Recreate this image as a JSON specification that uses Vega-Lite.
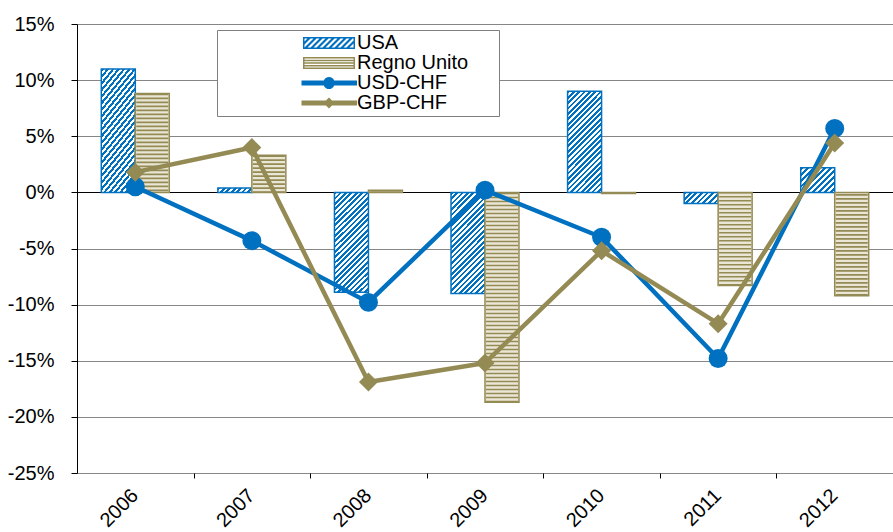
{
  "$schema": "https://vega.github.io/schema/vega-lite/v6.json",
  "width": 816,
  "height": 449,
  "autosize": "none",
  "padding": {"left": 77, "top": 24, "right": 0, "bottom": 59},
  "background": "#FFFFFF",
  "datasets": {
    "bars": [
      {"year": "2006", "series": "USA", "value": 11.0},
      {"year": "2006", "series": "Regno Unito", "value": 8.8},
      {"year": "2007", "series": "USA", "value": 0.4},
      {"year": "2007", "series": "Regno Unito", "value": 3.3},
      {"year": "2008", "series": "USA", "value": -8.9},
      {"year": "2008", "series": "Regno Unito", "value": 0.2},
      {"year": "2009", "series": "USA", "value": -9.0},
      {"year": "2009", "series": "Regno Unito", "value": -18.7},
      {"year": "2010", "series": "USA", "value": 9.0},
      {"year": "2010", "series": "Regno Unito", "value": -0.1},
      {"year": "2011", "series": "USA", "value": -1.0},
      {"year": "2011", "series": "Regno Unito", "value": -8.3},
      {"year": "2012", "series": "USA", "value": 2.2},
      {"year": "2012", "series": "Regno Unito", "value": -9.2}
    ],
    "fx": [
      {"year": "2006", "pair": "USD-CHF", "value": 0.5},
      {"year": "2007", "pair": "USD-CHF", "value": -4.3},
      {"year": "2008", "pair": "USD-CHF", "value": -9.8},
      {"year": "2009", "pair": "USD-CHF", "value": 0.2},
      {"year": "2010", "pair": "USD-CHF", "value": -4.0},
      {"year": "2011", "pair": "USD-CHF", "value": -14.8},
      {"year": "2012", "pair": "USD-CHF", "value": 5.7},
      {"year": "2006", "pair": "GBP-CHF", "value": 1.8},
      {"year": "2007", "pair": "GBP-CHF", "value": 4.0},
      {"year": "2008", "pair": "GBP-CHF", "value": -16.9},
      {"year": "2009", "pair": "GBP-CHF", "value": -15.2},
      {"year": "2010", "pair": "GBP-CHF", "value": -5.2},
      {"year": "2011", "pair": "GBP-CHF", "value": -11.7},
      {"year": "2012", "pair": "GBP-CHF", "value": 4.4}
    ]
  },
  "encoding": {
    "x": {"field": "year", "type": "nominal", "scale": {"paddingInner": 0.417, "paddingOuter": 0.2085},
      "axis": {"orient": "bottom", "title": null, "labelAngle": -45, "labelFont": "Liberation Sans", "labelFontSize": 20, "labelColor": "#000000", "domain": false, "grid": false, "labelPadding": 7,
        "ticks": true, "tickOffset": 58.3, "labelOffset": -66, "tickSize": 5, "tickColor": "#000000", "tickWidth": 1,
        "encode": {"ticks": {"update": {"y": {"value": -281}, "y2": {"value": -276}}}}}},
    "y": {"field": "value", "type": "quantitative", "scale": {"domain": [-25, 15], "nice": false},
      "axis": {"values": [-25, -20, -15, -10, -5, 0, 5, 10, 15], "labelExpr": "datum.value + '%'", "title": null, "grid": true,
        "gridColor": {"condition": {"test": "datum.value === 0", "value": "#000000"}, "value": "#868686"}, "gridWidth": 1,
        "domain": true, "domainColor": "#000000", "domainWidth": 1, "ticks": true, "tickColor": "#000000", "tickSize": 6,
        "labelFont": "Liberation Sans", "labelFontSize": 20, "labelColor": "#000000", "labelPadding": 17}}
  },
  "layer": [
    {
      "data": {"name": "bars"},
      "transform": [{"filter": "datum.series === 'USA'"}],
      "mark": {"type": "bar", "stroke": "#0070C0", "strokeWidth": 1.5},
      "encoding": {
        "xOffset": {"field": "series", "type": "nominal", "scale": {"domain": ["USA", "Regno Unito"], "paddingInner": 0, "paddingOuter": 0}},
        "fill": {
          "condition": [
            {"test": "datum.year === '2007'", "value": {"gradient": "linear", "x1": 0, "y1": 0, "x2": 1.113, "y2": 0.147, "stops": [
              {"offset": 0, "color": "#0070C0"}, {"offset": 0.0714, "color": "#0070C0"}, {"offset": 0.0714, "color": "#FFFFFF"}, {"offset": 0.1429, "color": "#FFFFFF"},
              {"offset": 0.1429, "color": "#0070C0"}, {"offset": 0.2143, "color": "#0070C0"}, {"offset": 0.2143, "color": "#FFFFFF"}, {"offset": 0.2857, "color": "#FFFFFF"},
              {"offset": 0.2857, "color": "#0070C0"}, {"offset": 0.3571, "color": "#0070C0"}, {"offset": 0.3571, "color": "#FFFFFF"}, {"offset": 0.4286, "color": "#FFFFFF"},
              {"offset": 0.4286, "color": "#0070C0"}, {"offset": 0.5, "color": "#0070C0"}, {"offset": 0.5, "color": "#FFFFFF"}, {"offset": 0.5714, "color": "#FFFFFF"},
              {"offset": 0.5714, "color": "#0070C0"}, {"offset": 0.6429, "color": "#0070C0"}, {"offset": 0.6429, "color": "#FFFFFF"}, {"offset": 0.7143, "color": "#FFFFFF"},
              {"offset": 0.7143, "color": "#0070C0"}, {"offset": 0.7857, "color": "#0070C0"}, {"offset": 0.7857, "color": "#FFFFFF"}, {"offset": 0.8571, "color": "#FFFFFF"},
              {"offset": 0.8571, "color": "#0070C0"}, {"offset": 0.9286, "color": "#0070C0"}, {"offset": 0.9286, "color": "#FFFFFF"}, {"offset": 1, "color": "#FFFFFF"}
            ]}},
            {"test": "datum.year === '2011'", "value": {"gradient": "linear", "x1": 0, "y1": 0, "x2": 1.199, "y2": 0.395, "stops": [
              {"offset": 0, "color": "#0070C0"}, {"offset": 0.0625, "color": "#0070C0"}, {"offset": 0.0625, "color": "#FFFFFF"}, {"offset": 0.125, "color": "#FFFFFF"},
              {"offset": 0.125, "color": "#0070C0"}, {"offset": 0.1875, "color": "#0070C0"}, {"offset": 0.1875, "color": "#FFFFFF"}, {"offset": 0.25, "color": "#FFFFFF"},
              {"offset": 0.25, "color": "#0070C0"}, {"offset": 0.3125, "color": "#0070C0"}, {"offset": 0.3125, "color": "#FFFFFF"}, {"offset": 0.375, "color": "#FFFFFF"},
              {"offset": 0.375, "color": "#0070C0"}, {"offset": 0.4375, "color": "#0070C0"}, {"offset": 0.4375, "color": "#FFFFFF"}, {"offset": 0.5, "color": "#FFFFFF"},
              {"offset": 0.5, "color": "#0070C0"}, {"offset": 0.5625, "color": "#0070C0"}, {"offset": 0.5625, "color": "#FFFFFF"}, {"offset": 0.625, "color": "#FFFFFF"},
              {"offset": 0.625, "color": "#0070C0"}, {"offset": 0.6875, "color": "#0070C0"}, {"offset": 0.6875, "color": "#FFFFFF"}, {"offset": 0.75, "color": "#FFFFFF"},
              {"offset": 0.75, "color": "#0070C0"}, {"offset": 0.8125, "color": "#0070C0"}, {"offset": 0.8125, "color": "#FFFFFF"}, {"offset": 0.875, "color": "#FFFFFF"},
              {"offset": 0.875, "color": "#0070C0"}, {"offset": 0.9375, "color": "#0070C0"}, {"offset": 0.9375, "color": "#FFFFFF"}, {"offset": 1, "color": "#FFFFFF"}
            ]}},
            {"test": "datum.year === '2012'", "value": {"gradient": "linear", "x1": 0, "y1": 0, "x2": 1.13, "y2": 0.821, "stops": [
              {"offset": 0, "color": "#0070C0"}, {"offset": 0.05, "color": "#0070C0"}, {"offset": 0.05, "color": "#FFFFFF"}, {"offset": 0.1, "color": "#FFFFFF"},
              {"offset": 0.1, "color": "#0070C0"}, {"offset": 0.15, "color": "#0070C0"}, {"offset": 0.15, "color": "#FFFFFF"}, {"offset": 0.2, "color": "#FFFFFF"},
              {"offset": 0.2, "color": "#0070C0"}, {"offset": 0.25, "color": "#0070C0"}, {"offset": 0.25, "color": "#FFFFFF"}, {"offset": 0.3, "color": "#FFFFFF"},
              {"offset": 0.3, "color": "#0070C0"}, {"offset": 0.35, "color": "#0070C0"}, {"offset": 0.35, "color": "#FFFFFF"}, {"offset": 0.4, "color": "#FFFFFF"},
              {"offset": 0.4, "color": "#0070C0"}, {"offset": 0.45, "color": "#0070C0"}, {"offset": 0.45, "color": "#FFFFFF"}, {"offset": 0.5, "color": "#FFFFFF"},
              {"offset": 0.5, "color": "#0070C0"}, {"offset": 0.55, "color": "#0070C0"}, {"offset": 0.55, "color": "#FFFFFF"}, {"offset": 0.6, "color": "#FFFFFF"},
              {"offset": 0.6, "color": "#0070C0"}, {"offset": 0.65, "color": "#0070C0"}, {"offset": 0.65, "color": "#FFFFFF"}, {"offset": 0.7, "color": "#FFFFFF"},
              {"offset": 0.7, "color": "#0070C0"}, {"offset": 0.75, "color": "#0070C0"}, {"offset": 0.75, "color": "#FFFFFF"}, {"offset": 0.8, "color": "#FFFFFF"},
              {"offset": 0.8, "color": "#0070C0"}, {"offset": 0.85, "color": "#0070C0"}, {"offset": 0.85, "color": "#FFFFFF"}, {"offset": 0.9, "color": "#FFFFFF"},
              {"offset": 0.9, "color": "#0070C0"}, {"offset": 0.95, "color": "#0070C0"}, {"offset": 0.95, "color": "#FFFFFF"}, {"offset": 1, "color": "#FFFFFF"}
            ]}}
          ],
          "value": {"gradient": "linear", "x1": 0, "y1": 0, "x2": 0.405, "y2": 1.201, "stops": [
            {"offset": 0, "color": "#0070C0"}, {"offset": 0.02, "color": "#0070C0"}, {"offset": 0.02, "color": "#FFFFFF"}, {"offset": 0.04, "color": "#FFFFFF"},
            {"offset": 0.04, "color": "#0070C0"}, {"offset": 0.06, "color": "#0070C0"}, {"offset": 0.06, "color": "#FFFFFF"}, {"offset": 0.08, "color": "#FFFFFF"},
            {"offset": 0.08, "color": "#0070C0"}, {"offset": 0.1, "color": "#0070C0"}, {"offset": 0.1, "color": "#FFFFFF"}, {"offset": 0.12, "color": "#FFFFFF"},
            {"offset": 0.12, "color": "#0070C0"}, {"offset": 0.14, "color": "#0070C0"}, {"offset": 0.14, "color": "#FFFFFF"}, {"offset": 0.16, "color": "#FFFFFF"},
            {"offset": 0.16, "color": "#0070C0"}, {"offset": 0.18, "color": "#0070C0"}, {"offset": 0.18, "color": "#FFFFFF"}, {"offset": 0.2, "color": "#FFFFFF"},
            {"offset": 0.2, "color": "#0070C0"}, {"offset": 0.22, "color": "#0070C0"}, {"offset": 0.22, "color": "#FFFFFF"}, {"offset": 0.24, "color": "#FFFFFF"},
            {"offset": 0.24, "color": "#0070C0"}, {"offset": 0.26, "color": "#0070C0"}, {"offset": 0.26, "color": "#FFFFFF"}, {"offset": 0.28, "color": "#FFFFFF"},
            {"offset": 0.28, "color": "#0070C0"}, {"offset": 0.3, "color": "#0070C0"}, {"offset": 0.3, "color": "#FFFFFF"}, {"offset": 0.32, "color": "#FFFFFF"},
            {"offset": 0.32, "color": "#0070C0"}, {"offset": 0.34, "color": "#0070C0"}, {"offset": 0.34, "color": "#FFFFFF"}, {"offset": 0.36, "color": "#FFFFFF"},
            {"offset": 0.36, "color": "#0070C0"}, {"offset": 0.38, "color": "#0070C0"}, {"offset": 0.38, "color": "#FFFFFF"}, {"offset": 0.4, "color": "#FFFFFF"},
            {"offset": 0.4, "color": "#0070C0"}, {"offset": 0.42, "color": "#0070C0"}, {"offset": 0.42, "color": "#FFFFFF"}, {"offset": 0.44, "color": "#FFFFFF"},
            {"offset": 0.44, "color": "#0070C0"}, {"offset": 0.46, "color": "#0070C0"}, {"offset": 0.46, "color": "#FFFFFF"}, {"offset": 0.48, "color": "#FFFFFF"},
            {"offset": 0.48, "color": "#0070C0"}, {"offset": 0.5, "color": "#0070C0"}, {"offset": 0.5, "color": "#FFFFFF"}, {"offset": 0.52, "color": "#FFFFFF"},
            {"offset": 0.52, "color": "#0070C0"}, {"offset": 0.54, "color": "#0070C0"}, {"offset": 0.54, "color": "#FFFFFF"}, {"offset": 0.56, "color": "#FFFFFF"},
            {"offset": 0.56, "color": "#0070C0"}, {"offset": 0.58, "color": "#0070C0"}, {"offset": 0.58, "color": "#FFFFFF"}, {"offset": 0.6, "color": "#FFFFFF"},
            {"offset": 0.6, "color": "#0070C0"}, {"offset": 0.62, "color": "#0070C0"}, {"offset": 0.62, "color": "#FFFFFF"}, {"offset": 0.64, "color": "#FFFFFF"},
            {"offset": 0.64, "color": "#0070C0"}, {"offset": 0.66, "color": "#0070C0"}, {"offset": 0.66, "color": "#FFFFFF"}, {"offset": 0.68, "color": "#FFFFFF"},
            {"offset": 0.68, "color": "#0070C0"}, {"offset": 0.7, "color": "#0070C0"}, {"offset": 0.7, "color": "#FFFFFF"}, {"offset": 0.72, "color": "#FFFFFF"},
            {"offset": 0.72, "color": "#0070C0"}, {"offset": 0.74, "color": "#0070C0"}, {"offset": 0.74, "color": "#FFFFFF"}, {"offset": 0.76, "color": "#FFFFFF"},
            {"offset": 0.76, "color": "#0070C0"}, {"offset": 0.78, "color": "#0070C0"}, {"offset": 0.78, "color": "#FFFFFF"}, {"offset": 0.8, "color": "#FFFFFF"},
            {"offset": 0.8, "color": "#0070C0"}, {"offset": 0.82, "color": "#0070C0"}, {"offset": 0.82, "color": "#FFFFFF"}, {"offset": 0.84, "color": "#FFFFFF"},
            {"offset": 0.84, "color": "#0070C0"}, {"offset": 0.86, "color": "#0070C0"}, {"offset": 0.86, "color": "#FFFFFF"}, {"offset": 0.88, "color": "#FFFFFF"},
            {"offset": 0.88, "color": "#0070C0"}, {"offset": 0.9, "color": "#0070C0"}, {"offset": 0.9, "color": "#FFFFFF"}, {"offset": 0.92, "color": "#FFFFFF"},
            {"offset": 0.92, "color": "#0070C0"}, {"offset": 0.94, "color": "#0070C0"}, {"offset": 0.94, "color": "#FFFFFF"}, {"offset": 0.96, "color": "#FFFFFF"},
            {"offset": 0.96, "color": "#0070C0"}, {"offset": 0.98, "color": "#0070C0"}, {"offset": 0.98, "color": "#FFFFFF"}, {"offset": 1, "color": "#FFFFFF"}
          ]}
        }
      }
    },
    {
      "data": {"name": "bars"},
      "transform": [{"filter": "datum.series === 'Regno Unito'"}],
      "mark": {"type": "bar", "fill": "#EAE6D6", "strokeWidth": 0},
      "encoding": {
        "xOffset": {"field": "series", "type": "nominal", "scale": {"domain": ["USA", "Regno Unito"], "paddingInner": 0, "paddingOuter": 0}}
      }
    },
    {
      "data": {"name": "bars"},
      "transform": [{"filter": "datum.series === 'Regno Unito'"}],
      "mark": {"type": "rule", "stroke": "#948A54", "strokeWidth": 32, "strokeDash": [1.6, 2.4], "strokeCap": "butt"},
      "encoding": {
        "xOffset": {"field": "series", "type": "nominal", "scale": {"domain": ["USA", "Regno Unito"], "paddingInner": 0, "paddingOuter": 0}},
        "y2": {"datum": 0}
      }
    },
    {
      "data": {"name": "bars"},
      "transform": [{"filter": "datum.series === 'Regno Unito'"}],
      "mark": {"type": "bar", "fill": "#FFFFFF", "fillOpacity": 0, "stroke": "#948A54", "strokeWidth": 1.5},
      "encoding": {
        "xOffset": {"field": "series", "type": "nominal", "scale": {"domain": ["USA", "Regno Unito"], "paddingInner": 0, "paddingOuter": 0}}
      }
    },
    {
      "data": {"name": "fx"},
      "transform": [{"filter": "datum.pair === 'USD-CHF'"}],
      "mark": {"type": "line", "strokeWidth": 4.5, "strokeJoin": "round"},
      "encoding": {
        "color": {"field": "pair", "type": "nominal",
          "scale": {"domain": ["USA", "Regno Unito", "USD-CHF", "GBP-CHF"], "range": ["#0070C0", "#948A54", "#0070C0", "#948A54"]},
          "legend": {
            "orient": "none", "legendX": 140, "legendY": 6, "title": null, "padding": 3,
            "fillColor": "#FFFFFF", "strokeColor": "#7F7F7F",
            "labelFont": "Liberation Sans", "labelFontSize": 20, "labelColor": "#000000", "labelLimit": 0,
            "symbolSize": 144, "symbolStrokeWidth": 1.5, "symbolOffset": 79, "labelOffset": 38, "rowPadding": 0,
            "labelExpr": "datum.label + '\u00a0\u00a0\u00a0\u00a0\u00a0\u200b'",
            "encode": {
              "symbols": {
                "update": {
                  "shape": {"signal": "datum.value === 'USA' ? 'M-1,-1H7.67V1H-1Z M-0.75,-0.75V0.75H7.42V-0.75Z M-0.75,-0.25L-0.25,-0.75L0.25,-0.75L-0.75,0.25Z M-0.75,0.75L0.75,-0.75L1.25,-0.75L-0.25,0.75Z M0.25,0.75L1.75,-0.75L2.25,-0.75L0.75,0.75Z M1.25,0.75L2.75,-0.75L3.25,-0.75L1.75,0.75Z M2.25,0.75L3.75,-0.75L4.25,-0.75L2.75,0.75Z M3.25,0.75L4.75,-0.75L5.25,-0.75L3.75,0.75Z M4.25,0.75L5.75,-0.75L6.25,-0.75L4.75,0.75Z M5.25,0.75L6.75,-0.75L7.25,-0.75L5.75,0.75Z M6.25,0.75L7.42,-0.42L7.42,0.08L6.75,0.75Z' : (datum.value === 'Regno Unito' ? 'M-1,-1H7.67V1H-1Z M-0.75,-0.75V0.75H7.42V-0.75Z M-0.75,-0.5625H7.42V-0.3125H-0.75Z M-0.75,-0.125H7.42V0.125H-0.75Z M-0.75,0.3125H7.42V0.5625H-0.75Z' : (datum.value === 'USD-CHF' ? 'M-1.25,-0.42H8V0.42H-1.25Z M2.42,0A0.92,0.92 0 1,1 4.25,0A0.92,0.92 0 1,1 2.42,0Z' : 'M-1.25,-0.42H8V0.42H-1.25Z M3.33,-0.92L4.25,0L3.33,0.92L2.42,0Z'))"},
                  "fill": {"signal": "datum.value === 'USA' || datum.value === 'USD-CHF' ? '#0070C0' : '#948A54'"},
                  "strokeWidth": {"value": 0},
                  "opacity": {"value": 1}
                }
              }
            }
          }
        }
      }
    },
    {
      "data": {"name": "fx"},
      "transform": [{"filter": "datum.pair === 'USD-CHF'"}],
      "mark": {"type": "point", "filled": true, "opacity": 1, "size": 360, "shape": "circle"},
      "encoding": {
        "color": {"field": "pair", "type": "nominal", "scale": {"domain": ["USA", "Regno Unito", "USD-CHF", "GBP-CHF"], "range": ["#0070C0", "#948A54", "#0070C0", "#948A54"]}, "legend": null}
      }
    },
    {
      "data": {"name": "fx"},
      "transform": [{"filter": "datum.pair === 'GBP-CHF'"}],
      "mark": {"type": "line", "strokeWidth": 4.5, "strokeJoin": "round"},
      "encoding": {
        "color": {"field": "pair", "type": "nominal", "scale": {"domain": ["USA", "Regno Unito", "USD-CHF", "GBP-CHF"], "range": ["#0070C0", "#948A54", "#0070C0", "#948A54"]}, "legend": null}
      }
    },
    {
      "data": {"name": "fx"},
      "transform": [{"filter": "datum.pair === 'GBP-CHF'"}],
      "mark": {"type": "point", "filled": true, "opacity": 1, "size": 360, "shape": "diamond"},
      "encoding": {
        "color": {"field": "pair", "type": "nominal", "scale": {"domain": ["USA", "Regno Unito", "USD-CHF", "GBP-CHF"], "range": ["#0070C0", "#948A54", "#0070C0", "#948A54"]}, "legend": null}
      }
    }
  ],
  "config": {
    "view": {"stroke": null},
    "font": "Liberation Sans"
  }
}
